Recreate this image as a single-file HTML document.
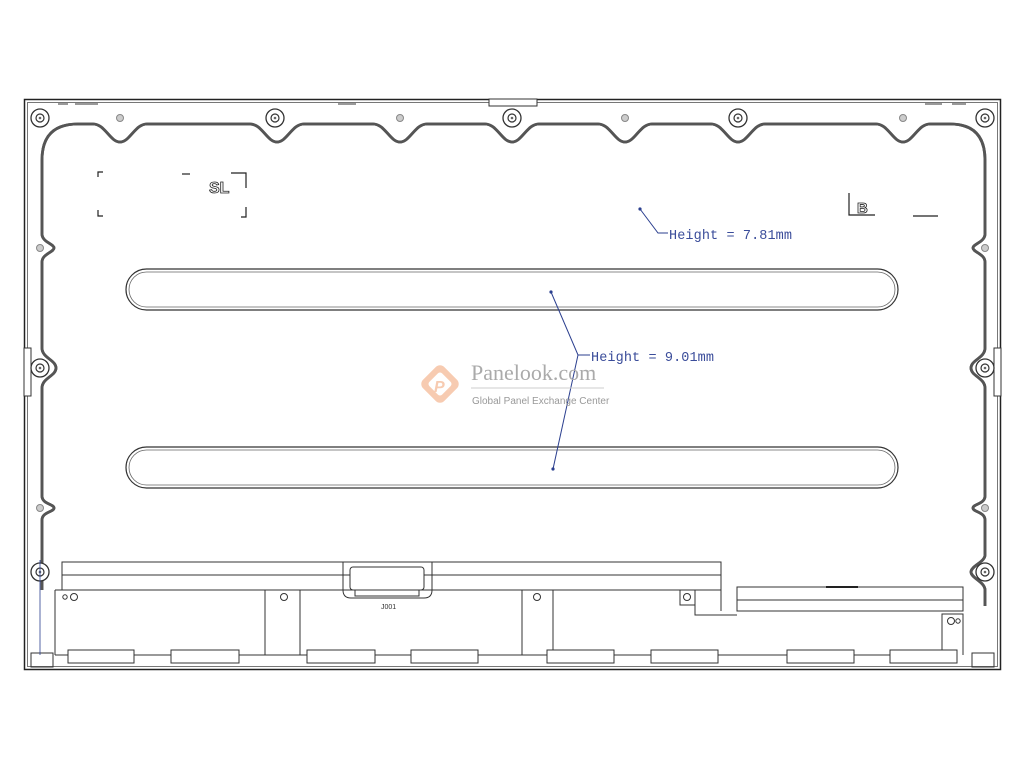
<!DOCTYPE html>
<html><head><meta charset="utf-8"><style>
html,body{margin:0;padding:0;background:#fff;width:1024px;height:768px;overflow:hidden}
svg{display:block}
text{font-family:"Liberation Sans",sans-serif}
</style></head><body>
<svg width="1024" height="768" viewBox="0 0 1024 768" xmlns="http://www.w3.org/2000/svg">
<defs>
<g id="bs"><circle r="9" fill="#fff" stroke="#333" stroke-width="1.3"/><circle r="4" fill="none" stroke="#333" stroke-width="1.2"/><circle r="1.3" fill="#666"/></g>
<g id="ss"><circle r="3.5" fill="#ccc" stroke="#888" stroke-width="1"/></g>
</defs>
<rect x="24.5" y="99.5" width="976" height="570" fill="none" stroke="#222" stroke-width="1.5"/>
<rect x="27.5" y="102.5" width="970" height="564" fill="none" stroke="#555" stroke-width="0.8"/>
<rect x="489" y="99" width="48" height="7" fill="#fff" stroke="#333" stroke-width="1"/>
<rect x="24" y="348" width="7" height="48" fill="#fff" stroke="#333" stroke-width="1"/>
<rect x="994" y="348" width="7" height="48" fill="#fff" stroke="#333" stroke-width="1"/>
<g stroke="#333" stroke-width="1"><line x1="58" y1="104" x2="68" y2="104"/><line x1="75" y1="104" x2="98" y2="104"/><line x1="338" y1="104" x2="356" y2="104"/><line x1="925" y1="104" x2="942" y2="104"/><line x1="952" y1="104" x2="966" y2="104"/></g>
<path id="rail" d="M42,590 L42,520 C42,512 54,512 54,508 C54,504 42,504 42,496 L42,388 C42,378 56,376 56,368 C56,360 42,358 42,348 L42,262 C42,254 54,252 54,248 C54,244 42,242 42,234 L42,160 Q42,124 78,124
L93,124 C105,124 110,142 120,142 C130,142 135,124 147,124
L250,124 C262,124 267,142 277,142 C287,142 292,124 304,124
L373,124 C385,124 390,142 400,142 C410,142 415,124 427,124
L485,124 C497,124 502,142 512,142 C522,142 527,124 539,124
L598,124 C610,124 615,142 625,142 C635,142 640,124 652,124
L711,124 C723,124 728,142 738,142 C748,142 753,124 765,124
L876,124 C888,124 893,142 903,142 C913,142 918,124 930,124
L950,124 Q985,124 985,160 L985,234 C985,242 973,244 973,248 C973,252 985,254 985,262 L985,348 C985,358 971,360 971,368 C971,376 985,378 985,388 L985,496 C985,504 973,504 973,508 C973,512 985,512 985,520 L985,555 C985,562 971,566 971,572 C971,578 985,582 985,590 L985,606"
 fill="none" stroke="#555" stroke-width="2.8"/>
<use href="#rail" stroke="#aaa" stroke-width="0.9" fill="none"/>
<use href="#bs" x="40" y="118"/><use href="#bs" x="275" y="118"/><use href="#bs" x="512" y="118"/><use href="#bs" x="738" y="118"/><use href="#bs" x="985" y="118"/>
<use href="#bs" x="40" y="368"/><use href="#bs" x="40" y="572"/><use href="#bs" x="985" y="368"/><use href="#bs" x="985" y="572"/>
<use href="#ss" x="120" y="118"/><use href="#ss" x="400" y="118"/><use href="#ss" x="625" y="118"/><use href="#ss" x="903" y="118"/>
<use href="#ss" x="40" y="248"/><use href="#ss" x="40" y="508"/><use href="#ss" x="985" y="248"/><use href="#ss" x="985" y="508"/>
<g stroke="#222" stroke-width="1.2" fill="none">
<path d="M103,172 H98 V177"/><path d="M98,210 V216 H103"/><line x1="182" y1="174" x2="190" y2="174"/>
<path d="M231,173 H246 V188"/><path d="M246,207 V217 H241"/>
<path d="M849,193 V215 H875"/><line x1="913" y1="216" x2="938" y2="216"/>
</g>
<text x="209" y="193" font-size="16" font-weight="bold" fill="#fff" stroke="#222" stroke-width="0.8">SL</text>
<text x="857" y="213" font-size="15" font-weight="bold" fill="#fff" stroke="#222" stroke-width="0.8">B</text>
<rect x="126" y="269" width="772" height="41" rx="20.5" fill="none" stroke="#333" stroke-width="1.2"/>
<rect x="129" y="272" width="766" height="35" rx="17.5" fill="none" stroke="#666" stroke-width="0.8"/>
<rect x="126" y="447" width="772" height="41" rx="20.5" fill="none" stroke="#333" stroke-width="1.2"/>
<rect x="129" y="450" width="766" height="35" rx="17.5" fill="none" stroke="#666" stroke-width="0.8"/>
<g stroke="#2b3f8f" stroke-width="1" fill="none">
<polyline points="640,209 658,233 668,233"/>
<polyline points="551,292 578,355 590,355"/>
<polyline points="578,355 553,469"/>
</g>
<circle cx="640" cy="209" r="1.6" fill="#2b3f8f"/><circle cx="551" cy="292" r="1.6" fill="#2b3f8f"/><circle cx="553" cy="469" r="1.6" fill="#2b3f8f"/>
<text x="669" y="239" font-size="13.5" fill="#3a4c9a" style="font-family:'Liberation Mono',monospace" textLength="123">Height = 7.81mm</text>
<text x="591" y="361" font-size="13.5" fill="#3a4c9a" style="font-family:'Liberation Mono',monospace" textLength="123">Height = 9.01mm</text>
<g opacity="0.55">
<rect x="425" y="369" width="30" height="30" rx="6" transform="rotate(45 440 384)" fill="#f2a272"/>
<rect x="431" y="375" width="18" height="18" rx="3" transform="rotate(45 440 384)" fill="#fff"/>
<text x="434" y="392" font-size="16" font-style="italic" font-weight="bold" fill="#f2a272">P</text>
</g>
<text x="471" y="380" font-size="22" fill="#aaa" style="font-family:'Liberation Serif',serif">Panelook.com</text>
<line x1="471" y1="388" x2="604" y2="388" stroke="#ccc" stroke-width="1"/>
<text x="472" y="404" font-size="10" fill="#999">Global Panel Exchange Center</text>
<g stroke="#333" stroke-width="1" fill="none">
<rect x="62" y="562" width="659" height="28"/><line x1="62" y1="575" x2="721" y2="575"/>
<path d="M343,562 V590 Q343,598 351,598 H424 Q432,598 432,590 V562"/>
<rect x="350" y="567" width="74" height="23" rx="3" fill="#fff"/><rect x="355" y="590" width="64" height="6"/>
<path d="M55,590 H695 V615 H737 M721,562 V611"/>
<rect x="737" y="587" width="226" height="24"/><line x1="737" y1="600" x2="963" y2="600"/>
<rect x="680" y="590" width="15" height="15"/>
<line x1="55" y1="590" x2="55" y2="655"/>
<line x1="55" y1="655" x2="942" y2="655"/>
<path d="M942,655 V614 H963 V655"/>
<line x1="265" y1="590" x2="265" y2="655"/><line x1="300" y1="590" x2="300" y2="655"/>
<line x1="522" y1="590" x2="522" y2="655"/><line x1="553" y1="590" x2="553" y2="655"/>
<rect x="68" y="650" width="66" height="13" fill="#fff"/><rect x="171" y="650" width="68" height="13" fill="#fff"/>
<rect x="307" y="650" width="68" height="13" fill="#fff"/><rect x="411" y="650" width="67" height="13" fill="#fff"/>
<rect x="547" y="650" width="67" height="13" fill="#fff"/><rect x="651" y="650" width="67" height="13" fill="#fff"/>
<rect x="787" y="650" width="67" height="13" fill="#fff"/><rect x="890" y="650" width="67" height="13" fill="#fff"/>
<circle cx="74" cy="597" r="3.5"/><circle cx="65" cy="597" r="2.2"/>
<circle cx="284" cy="597" r="3.5"/><circle cx="537" cy="597" r="3.5"/><circle cx="687" cy="597" r="3.5"/>
<circle cx="951" cy="621" r="3.5"/><circle cx="958" cy="621" r="2.2"/>
<rect x="31" y="653" width="22" height="14"/><rect x="972" y="653" width="22" height="14"/>
</g>
<line x1="826" y1="587" x2="858" y2="587" stroke="#222" stroke-width="2"/>
<text x="381" y="609" font-size="7" fill="#333">J001</text>
<line x1="40" y1="560" x2="40" y2="655" stroke="#2b3f8f" stroke-width="0.8"/>
</svg>
</body></html>
